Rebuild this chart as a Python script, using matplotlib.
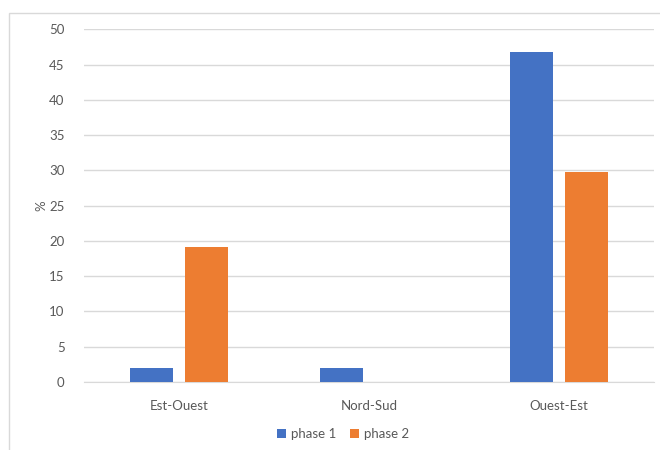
import numpy as np
import matplotlib.pyplot as plt
from matplotlib.patches import Rectangle

categories = ["Est-Ouest", "Nord-Sud", "Ouest-Est"]
phase1 = [2.0, 2.0, 46.8]
phase2 = [19.1, 0.0, 29.8]
series_names = ["phase 1", "phase 2"]
y_ticks = [0, 5, 10, 15, 20, 25, 30, 35, 40, 45, 50]

blue = "#4472c4"
orange = "#ed7d31"
text_col = "#595959"
grid_col = "#d9d9d9"

plt.rcParams['font.family'] = ['Lato', 'DejaVu Sans']

fig = plt.figure(figsize=(6.6, 4.5), dpi=100)
# chart frame (cut off at right and bottom like the reference)
fig.patches.append(Rectangle((9 / 660, -0.1), 1.1, 1 - 13 / 450 + 0.1,
                             transform=fig.transFigure, fill=False,
                             edgecolor=grid_col, linewidth=1))

ax = fig.add_axes([84 / 660, 1 - 382 / 450, 570 / 660, (382 - 29.3) / 450])

x = np.arange(len(categories))
w = 0.226
gap = 0.063
ax.bar(x - (w + gap) / 2, phase1, w, color=blue, label=series_names[0], zorder=3)
ax.bar(x + (w + gap) / 2, phase2, w, color=orange, label=series_names[1], zorder=3)

ax.set_xlim(-0.5, len(categories) - 0.5)
ax.set_ylim(0, 50)
ax.set_yticks(y_ticks)
ax.yaxis.grid(True, color=grid_col, linewidth=1, zorder=0)
ax.set_axisbelow(True)
for s in ["top", "right", "left"]:
    ax.spines[s].set_visible(False)
ax.spines["bottom"].set_color(grid_col)
ax.set_xticks(x)
ax.set_xticklabels(categories)
ax.tick_params(axis="both", length=0, colors=text_col, labelsize=9.5)
ax.tick_params(axis="x", pad=13)
ax.tick_params(axis="y", pad=14)
ax.set_ylabel("%", color=text_col, fontsize=9.5, labelpad=1)

ax.legend(loc="center", bbox_to_anchor=(343 / 660, 1 - 434 / 450),
          bbox_transform=fig.transFigure, ncol=2, frameon=False,
          fontsize=9.5, labelcolor=text_col, handlelength=0.7, handleheight=0.7,
          handletextpad=0.4, columnspacing=1.0)

fig.savefig("out.png", dpi=100)
